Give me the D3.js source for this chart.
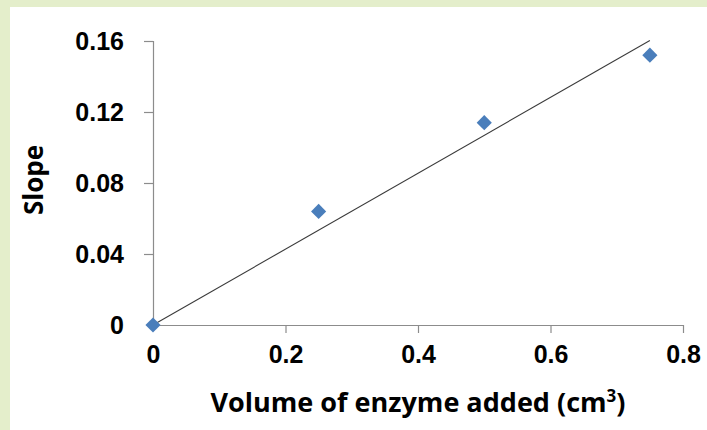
<!DOCTYPE html>
<html><head><meta charset="utf-8">
<script src="https://cdn.jsdelivr.net/npm/d3@7"></script>
<style>html,body{margin:0;padding:0;background:#e4eecb;}svg{display:block;}</style>
</head><body>
<svg id="c" width="707" height="430"></svg>
<script>
const volumes = [0, 0.25, 0.5, 0.75];
const slopes = [0, 0.064, 0.114, 0.152];
const xTicks = [0, 0.2, 0.4, 0.6, 0.8];
const yTicks = [0, 0.04, 0.08, 0.12, 0.16];
const xTitle = "Volume of enzyme added (cm";
const yTitle = "Slope";

const svg = d3.select("#c");
svg.append("rect").attr("x",0).attr("y",0).attr("width",707).attr("height",430).attr("fill","#e4eecb");
svg.append("rect").attr("x",10).attr("y",7).attr("width",697).attr("height",423).attr("fill","#ffffff");

const x = d3.scaleLinear().domain([0,0.8]).range([153,683]);
const y = d3.scaleLinear().domain([0,0.16]).range([325,41]);

const xAxis = svg.append("g").attr("transform","translate(0,325)")
  .call(d3.axisBottom(x).tickValues(xTicks).tickSize(8).tickPadding(12).tickFormat(d=>d===0?"0":d3.format(".1f")(d)));
const yAxis = svg.append("g").attr("transform","translate(153,0)")
  .call(d3.axisLeft(y).tickValues(yTicks).tickSize(9).tickPadding(20).tickFormat(d=>d===0?"0":d3.format(".2f")(d)));
[xAxis,yAxis].forEach(a=>{
  a.selectAll("path,line").attr("stroke","#8c8c8c").attr("stroke-width",1.2);
  a.selectAll("text").attr("fill","#000").attr("font-family","Liberation Sans, Arial, sans-serif")
    .attr("font-weight","bold").attr("font-size",25);
});
xAxis.select(".domain").attr("d","M153,0.5H683");
xAxis.selectAll(".tick").filter(d=>d===0).select("line").remove();
yAxis.select(".domain").attr("d","M0.5,325V41");
yAxis.selectAll(".tick").filter(d=>d===0).select("line").remove();
yAxis.selectAll("text").attr("dy","0.35em");

// least-squares trendline through the origin, computed from the data
const k = d3.sum(volumes,(v,i)=>v*slopes[i]) / d3.sum(volumes,v=>v*v);
const xMax = d3.max(volumes);
svg.append("line").attr("x1",x(0)).attr("y1",y(0)).attr("x2",x(xMax)).attr("y2",y(k*xMax))
  .attr("stroke","#3a3a3a").attr("stroke-width",1.1);

svg.append("g").selectAll("path").data(volumes).join("path")
  .attr("d",d3.symbol(d3.symbolSquare,115)())
  .attr("transform",(d,i)=>`translate(${x(d)},${y(slopes[i])}) rotate(45)`)
  .attr("fill","#4a7ebb");

const t = svg.append("text").attr("x",418).attr("y",412).attr("text-anchor","middle")
  .attr("font-family","Open Sans, sans-serif").attr("font-weight",700).attr("font-size",27)
  .attr("fill","#000").attr("textLength",415).attr("lengthAdjust","spacingAndGlyphs");
t.append("tspan").text(xTitle);
t.append("tspan").attr("font-size",17).attr("dy",-10).text("3");
t.append("tspan").attr("dy",10).text(")");

svg.append("text").attr("transform","translate(43,180) rotate(-90)").attr("text-anchor","middle")
  .attr("font-family","Open Sans, sans-serif").attr("font-weight",700).attr("font-size",26)
  .attr("fill","#000").text(yTitle);
</script>
</body></html>
